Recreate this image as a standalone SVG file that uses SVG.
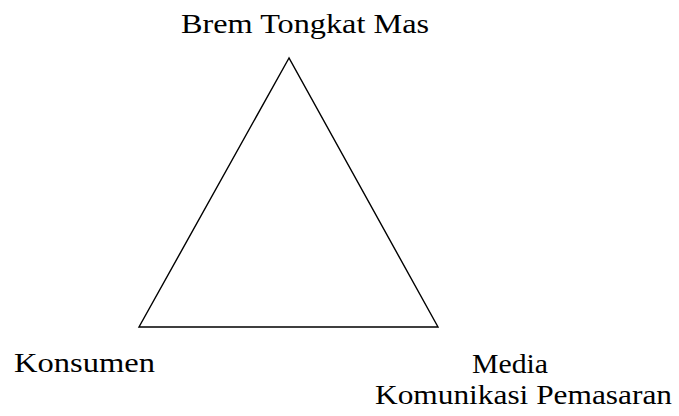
<svg xmlns="http://www.w3.org/2000/svg" width="679" height="416" viewBox="0 0 679 416">
<style>
.lbl{font-family:"Liberation Serif","Times New Roman",serif;font-size:28px;fill:#000}
.edge{fill:none;stroke:#000;stroke-width:1.4;stroke-linejoin:miter}
</style>
<rect width="679" height="416" fill="#fff"/>
<g id="connectors">
<polygon class="edge" points="289,58 139,327 438,327"/>
</g>
<g id="node-brem"><text class="lbl" x="181" y="33" textLength="248" lengthAdjust="spacingAndGlyphs">Brem Tongkat Mas</text></g>
<g id="node-konsumen"><text class="lbl" x="14" y="372" textLength="141" lengthAdjust="spacingAndGlyphs">Konsumen</text></g>
<g id="node-media"><text class="lbl" x="472" y="373" textLength="76" lengthAdjust="spacingAndGlyphs">Media</text>
<text class="lbl" x="375" y="404" textLength="297" lengthAdjust="spacingAndGlyphs">Komunikasi Pemasaran</text></g>
</svg>
